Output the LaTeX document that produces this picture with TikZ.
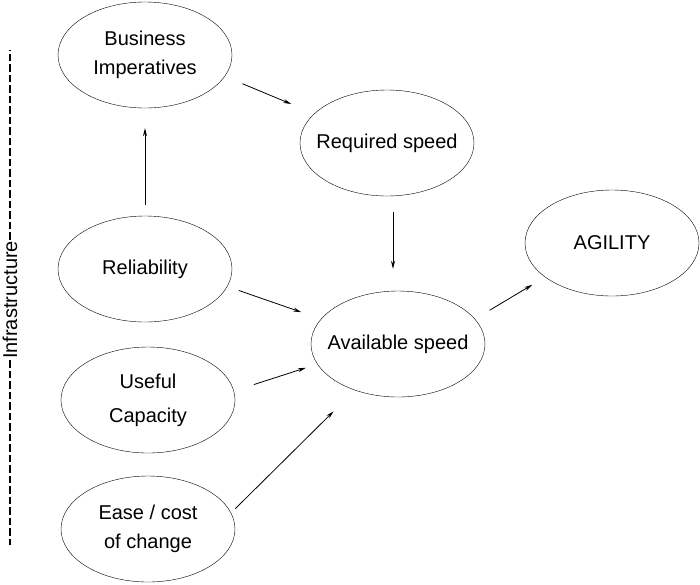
\documentclass[tikz,border=0pt]{standalone}
\usepackage{fontspec}
\setmainfont{Liberation Sans}
\usetikzlibrary{shapes.geometric,arrows.meta}

\tikzset{%
  bubble/.style={draw,ellipse,thin,inner xsep=-16pt,inner ysep=0pt,%
    minimum width=174pt,minimum height=106pt,align=center,%
    font=\fontsize{20}{29}\selectfont},%
  arrow/.style={-{Stealth[length=8pt,width=4pt]},line width=0.8pt},%
  guide/.style={line width=1.7pt,dash pattern=on 7.5pt off 3pt}%
}

\begin{document}
\begin{tikzpicture}[x=1pt,y=-1pt]%
  \useasboundingbox (0,0) rectangle (700,584);%
  % The ellipses
  \foreach \pos/\name/\label in {%
      {145,55}/biz/{Business\\Imperatives},%
      {387,143}/req/{Required speed},%
      {612,243}/agil/{AGILITY},%
      {145,269}/rel/{Reliability},%
      {398,344}/avail/{Available speed},%
      {148,400}/use/{Useful\\[5pt]Capacity},%
      {148,529}/ease/{Ease / cost\\of change}%
    } {%
      \node[bubble] (\name) at (\pos) {\label};%
    };%
  % The arrows, kept clear of the ellipses
  \foreach \from/\to/\pre/\post in {%
      rel.90/biz.-90/11/20,%
      biz.-15/req.158/19/25,%
      rel.-12/avail.162/12/21,%
      use.6/avail.-166/21/12,%
      ease.11/avail.-133/6/30,%
      avail.18/agil.-153/17/15%
    } {%
      \draw[arrow,shorten <=\pre pt,shorten >=\post pt] (\from) -- (\to);%
    };%
  \draw[arrow,shorten <=16pt,shorten >=22pt]%
    ([xshift=6pt]req.south) -- ([xshift=-5pt]avail.north);%
  % Infrastructure bracket on the left
  \node[rotate=90,inner sep=1pt,font=\fontsize{20}{22}\selectfont]%
    (infra) at (10,300) {Infrastructure};%
  \coordinate (top) at (10,50);%
  \coordinate (bottom) at (10,545);%
  \draw[guide] (infra.east) -- (top);%
  \draw[guide] (infra.west) -- (bottom);%
\end{tikzpicture}
\end{document}
